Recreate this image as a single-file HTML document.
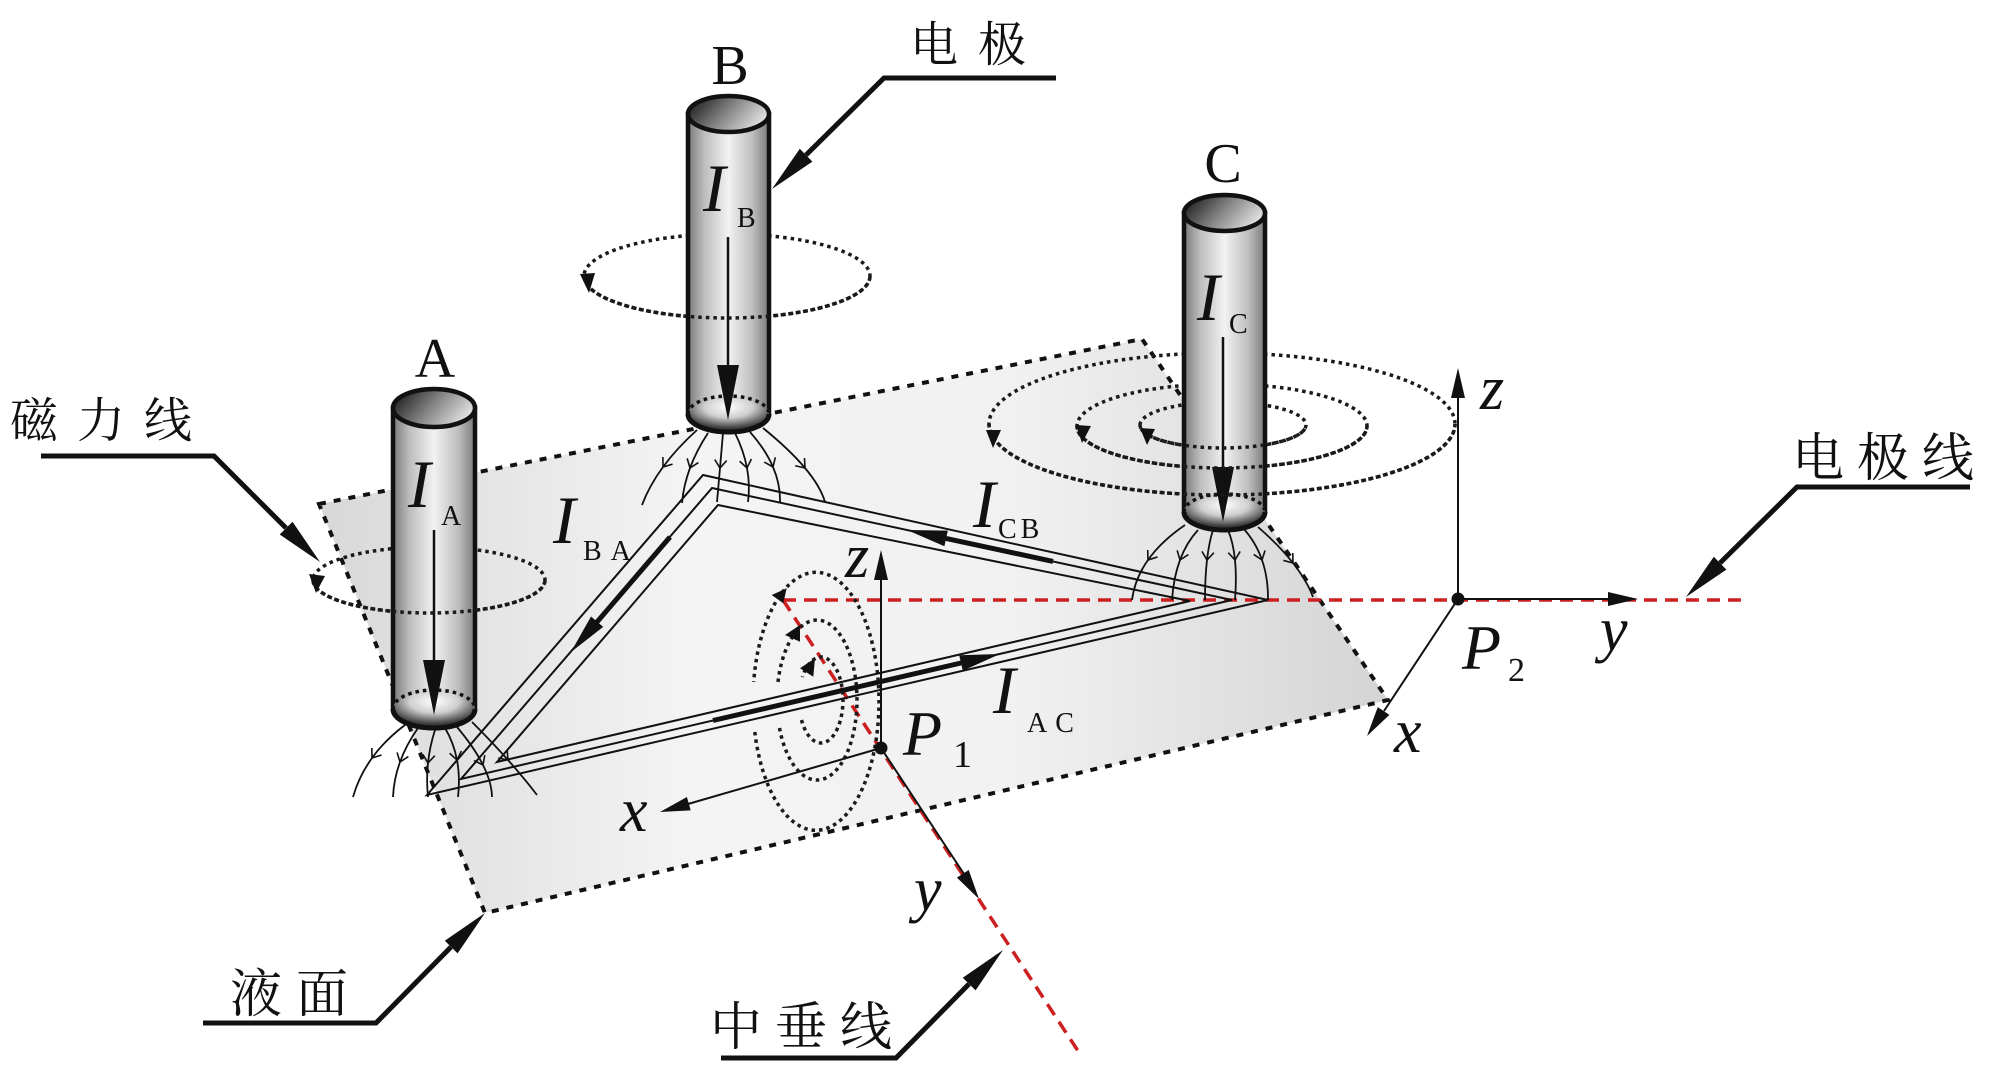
<!DOCTYPE html>
<html><head><meta charset="utf-8">
<style>
html,body{margin:0;padding:0;background:#fff;}
svg{display:block;}
.cjk{font-family:"Liberation Serif","Noto Serif CJK SC","Noto Sans CJK SC",serif;}
.it{font-family:"Liberation Serif",serif;font-style:italic;}
.rm{font-family:"Liberation Serif",serif;}
</style></head><body>
<svg width="2000" height="1080" viewBox="0 0 2000 1080" xmlns="http://www.w3.org/2000/svg">
<defs>
<linearGradient id="plane" gradientUnits="userSpaceOnUse" x1="319" y1="600" x2="1388" y2="600">
 <stop offset="0" stop-color="#d8d8d8"/>
 <stop offset="0.35" stop-color="#f4f4f4"/>
 <stop offset="0.65" stop-color="#f1f1f1"/>
 <stop offset="1" stop-color="#d4d4d4"/>
</linearGradient>
<linearGradient id="body" x1="0" y1="0" x2="1" y2="0">
 <stop offset="0" stop-color="#7a7a7a"/>
 <stop offset="0.2" stop-color="#bdbdbd"/>
 <stop offset="0.5" stop-color="#f2f2f2"/>
 <stop offset="0.8" stop-color="#bdbdbd"/>
 <stop offset="1" stop-color="#7a7a7a"/>
</linearGradient>
<linearGradient id="cap" x1="0" y1="0.3" x2="1" y2="0.7">
 <stop offset="0" stop-color="#222"/>
 <stop offset="0.5" stop-color="#8c8c8c"/>
 <stop offset="1" stop-color="#eeeeee"/>
</linearGradient>
<radialGradient id="bowl" cx="0.5" cy="0.3" r="0.6">
 <stop offset="0" stop-color="#ffffff"/>
 <stop offset="0.5" stop-color="#cfcfcf"/>
 <stop offset="1" stop-color="#3a3a3a"/>
</radialGradient>
<marker id="chev" markerUnits="userSpaceOnUse" markerWidth="18" markerHeight="18" viewBox="-9 -9 18 18" refX="0" refY="0" orient="auto">
 <path d="M-8,-6 L0,0 L-8,6" fill="none" stroke="#111" stroke-width="1.6"/>
</marker>
</defs>

<polygon points="319,504 1142,339 1388,700 485,913" fill="url(#plane)" stroke="#111" stroke-width="4" stroke-dasharray="7 8"/>

<g stroke="#cc1f1f" stroke-width="3.5" stroke-dasharray="13 8" fill="none">
 <line x1="783" y1="600" x2="1746" y2="600"/>
 <line x1="783" y1="600" x2="1080" y2="1054"/>
</g>

<g fill="none" stroke="#111" stroke-width="2">
 <polygon points="427,795 703,475 1268,600"/>
 <polygon points="461,779 712,488 1232,600"/>
 <polygon points="497,762 718,505 1190,601"/>
</g>

<g stroke="#111" stroke-width="5" fill="none">
 <line x1="670" y1="537" x2="597" y2="622"/>
 <line x1="946" y1="538.4" x2="1053" y2="561.4"/>
 <line x1="713" y1="720.5" x2="961" y2="663"/>
</g>
<g fill="#111">
 <polygon points="571,652 591,616.5 603.2,626.9"/>
 <polygon points="907,530 947.8,530.6 944.4,546.2"/>
 <polygon points="1000,654 962.8,670.8 959.2,655.2"/>
</g>

<g fill="none" stroke="#1a1a1a" stroke-width="3.5" stroke-dasharray="3.5 4">
 <path d="M754.8,732 A63,129 0 1 0 753.7,682"/>
 <path d="M779.5,728 A40,80 0 1 0 777.9,683"/>
 <path d="M801.5,720 A22,43 0 1 0 802.4,677"/>
</g>
<g fill="#111">
 <polygon points="771.7,595 786.7,588.3 783.3,603.3"/>
 <polygon points="785,635 800,625 800,641.7"/>
 <polygon points="800,668.3 815,658.3 813.3,676.7"/>
</g>

<g stroke="#111" stroke-width="2" fill="none">
 <line x1="881" y1="748" x2="881" y2="578"/>
 <line x1="881" y1="748" x2="688" y2="804"/>
 <line x1="881" y1="748" x2="964" y2="874"/>
</g>
<g fill="#111">
 <polygon points="881,550 874,580 888,580"/>
 <polygon points="660,812 686.9,797 690.7,810.4"/>
 <polygon points="979,899 956.9,877.6 968.7,870"/>
 <circle cx="881" cy="748" r="6.5"/>
</g>

<g stroke="#111" stroke-width="2" fill="none">
 <line x1="1458" y1="599" x2="1458" y2="396"/>
 <line x1="1458" y1="599" x2="1610" y2="599"/>
 <line x1="1458" y1="599" x2="1384" y2="711"/>
</g>
<g fill="#111">
 <polygon points="1458,368 1451,398 1465,398"/>
 <polygon points="1638,599 1608,592 1608,606"/>
 <polygon points="1367,736 1377.8,707.1 1389.4,714.9"/>
 <circle cx="1458" cy="599" r="6.5"/>
</g>

<g fill="none" stroke="#1a1a1a" stroke-width="3.5" stroke-dasharray="3.5 4">
 <ellipse cx="727" cy="276" rx="143" ry="42"/>
 <ellipse cx="429" cy="580" rx="116" ry="33"/>
 <ellipse cx="1222" cy="424" rx="233" ry="71"/>
 <ellipse cx="1222" cy="426" rx="145" ry="42"/>
 <ellipse cx="1223" cy="425" rx="83" ry="23"/>
</g>

<g fill="none" stroke="#111" stroke-width="1.8" marker-mid="url(#chev)">
 <path d="M697,430 Q676.75,448.25 663,467 T642,505"/>
 <path d="M708,433 Q696.5,450.5 690,468 T682,503"/>
 <path d="M723,433 Q721.5,450.75 720,468 T717,502"/>
 <path d="M735,433 Q743.75,450.75 747,468 T748,502"/>
 <path d="M750,432 Q765.5,449.5 773,467 T780,502"/>
 <path d="M763,428 Q789.5,449.5 805,468 T825,502"/>

 <path d="M405,725 Q385,740 372,758 T353,797"/>
 <path d="M418,728 Q406.25,744.75 400,762 T393,797"/>
 <path d="M435,730 Q429.75,746.25 428,763 T428,797"/>
 <path d="M445,728 Q453.75,742.75 457,760 T458,797"/>
 <path d="M457,727 Q474.25,747.5 483,765 T492,797"/>
 <path d="M472,722 Q491.75,741.75 508,760 T537,795"/>

 <path d="M1185,525 Q1161.25,541.25 1148,560 T1132,600"/>
 <path d="M1198,530 Q1186.5,542.5 1180,560 T1172,600"/>
 <path d="M1213,530 Q1209,542.5 1207,560 T1205,600"/>
 <path d="M1228,530 Q1233.25,542.5 1235,560 T1235,600"/>
 <path d="M1243,528 Q1255.75,542 1262,560 T1268,600"/>
 <path d="M1258,527 Q1279.25,545.5 1293,563 T1313,597"/>
</g>

<g>
 <path d="M393,408 L393,709 A41,19 0 0 0 475,709 L475,408 Z" fill="url(#body)" stroke="#111" stroke-width="4.5"/>
 <ellipse cx="434" cy="408" rx="41" ry="19" fill="url(#cap)" stroke="#111" stroke-width="4.5"/>
 <path d="M393,709 A41,19 0 0 0 475,709 A41,19 0 0 0 393,709 Z" fill="url(#bowl)"/>
 <path d="M393,709 A41,19 0 0 1 475,709" fill="none" stroke="#111" stroke-width="3.5" stroke-dasharray="3.5 4"/>
 <path d="M393,709 A41,19 0 0 0 475,709" fill="none" stroke="#111" stroke-width="5"/>
 <line x1="434" y1="530" x2="434" y2="662" stroke="#111" stroke-width="2.5"/>
 <polygon points="434,715 423,660 445,660" fill="#111"/>
</g>
<g>
 <path d="M688,114 L688,414 A40.5,18 0 0 0 769,414 L769,114 Z" fill="url(#body)" stroke="#111" stroke-width="4.5"/>
 <ellipse cx="728.5" cy="114" rx="40.5" ry="18" fill="url(#cap)" stroke="#111" stroke-width="4.5"/>
 <path d="M688,414 A40.5,18 0 0 0 769,414 A40.5,18 0 0 0 688,414 Z" fill="url(#bowl)"/>
 <path d="M688,414 A40.5,18 0 0 1 769,414" fill="none" stroke="#111" stroke-width="3.5" stroke-dasharray="3.5 4"/>
 <path d="M688,414 A40.5,18 0 0 0 769,414" fill="none" stroke="#111" stroke-width="5"/>
 <line x1="728" y1="237" x2="728" y2="367" stroke="#111" stroke-width="2.5"/>
 <polygon points="728,420 717,365 739,365" fill="#111"/>
</g>
<g>
 <path d="M1184,213 L1184,512 A40.5,18 0 0 0 1265,512 L1265,213 Z" fill="url(#body)" stroke="#111" stroke-width="4.5"/>
 <ellipse cx="1224.5" cy="213" rx="40.5" ry="18" fill="url(#cap)" stroke="#111" stroke-width="4.5"/>
 <path d="M1184,512 A40.5,18 0 0 0 1265,512 A40.5,18 0 0 0 1184,512 Z" fill="url(#bowl)"/>
 <path d="M1184,512 A40.5,18 0 0 1 1265,512" fill="none" stroke="#111" stroke-width="3.5" stroke-dasharray="3.5 4"/>
 <path d="M1184,512 A40.5,18 0 0 0 1265,512" fill="none" stroke="#111" stroke-width="5"/>
 <line x1="1223" y1="337" x2="1223" y2="469" stroke="#111" stroke-width="2.5"/>
 <polygon points="1223,522 1212,467 1234,467" fill="#111"/>
</g>

<g fill="none" stroke="#1a1a1a" stroke-width="3.5" stroke-dasharray="3.5 4">
 <path d="M584,276 A143,42 0 0 0 870,276"/>
 <path d="M313,580 A116,33 0 0 0 545,580"/>
 <path d="M989,424 A233,71 0 0 0 1455,424"/>
 <path d="M1077,426 A145,42 0 0 0 1367,426"/>
 <path d="M1140,425 A83,23 0 0 0 1306,425"/>
</g>
<g fill="#111">
 <polygon points="589,293 580,274 595,273"/>
 <polygon points="316,593 309,574 325,576"/>
 <polygon points="993,448 986,430 1001,430"/>
 <polygon points="1082,443 1076,425 1091,426"/>
 <polygon points="1147,445 1140,428 1155,429"/>
</g>

<g fill="none" stroke="#111" stroke-width="5" stroke-linejoin="miter">
 <polyline points="1056,78 884,78 806,155"/>
 <polyline points="41,456 214,456 286,528"/>
 <polyline points="1970,487 1797,487 1720,563"/>
 <polyline points="203,1023 376,1023 451,947"/>
 <polyline points="721,1058 896,1058 969,984"/>
</g>
<g fill="#111">
 <polygon points="772,189 799.8,148.8 812.4,161.6"/>
 <polygon points="320,562 279.7,534.5 292.5,521.7"/>
 <polygon points="1686,597 1713.8,556.8 1726.4,569.6"/>
 <polygon points="485,913 457.6,953.4 444.8,940.8"/>
 <polygon points="1003,950 975.6,990.4 962.8,977.8"/>
</g>

<g fill="#111">
 <text class="rm" x="730" y="84" font-size="56" text-anchor="middle">B</text>
 <text class="rm" x="435" y="377" font-size="56" text-anchor="middle">A</text>
 <text class="rm" x="1223" y="182" font-size="56" text-anchor="middle">C</text>

 <text class="it" x="408" y="507" font-size="68">I</text>
 <text class="rm" x="441" y="525" font-size="28">A</text>
 <text class="it" x="703" y="211" font-size="68">I</text>
 <text class="rm" x="737" y="227" font-size="28">B</text>
 <text class="it" x="1197" y="320" font-size="68">I</text>
 <text class="rm" x="1229" y="333" font-size="28">C</text>
 <text class="it" x="553" y="543" font-size="68">I</text>
 <text class="rm" x="583" y="560" font-size="28" letter-spacing="9">BA</text>
 <text class="it" x="973" y="527" font-size="68">I</text>
 <text class="rm" x="998" y="538" font-size="28" letter-spacing="4">CB</text>
 <text class="it" x="993" y="713" font-size="68">I</text>
 <text class="rm" x="1027" y="732" font-size="28" letter-spacing="8">AC</text>

 <text class="it" x="845" y="577" font-size="62">z</text>
 <text class="it" x="620" y="831" font-size="62">x</text>
 <text class="it" x="914" y="910" font-size="62">y</text>
 <text class="it" x="903" y="755" font-size="64">P</text>
 <text class="rm" x="953" y="767" font-size="38">1</text>

 <text class="it" x="1480" y="409" font-size="62">z</text>
 <text class="it" x="1462" y="669" font-size="64">P</text>
 <text class="rm" x="1508" y="681" font-size="34">2</text>
 <text class="it" x="1600" y="650" font-size="62">y</text>
 <text class="it" x="1394" y="752" font-size="62">x</text>

 <text class="cjk" x="910" y="61" font-size="48" letter-spacing="20">电极</text>
 <text class="cjk" x="10" y="437" font-size="48" letter-spacing="19">磁力线</text>
 <text class="cjk" x="1792" y="476" font-size="52" letter-spacing="13">电极线</text>
 <text class="cjk" x="230" y="1012" font-size="52" letter-spacing="14">液面</text>
 <text class="cjk" x="710" y="1045" font-size="52" letter-spacing="13">中垂线</text>
</g>
</svg>
</body></html>
